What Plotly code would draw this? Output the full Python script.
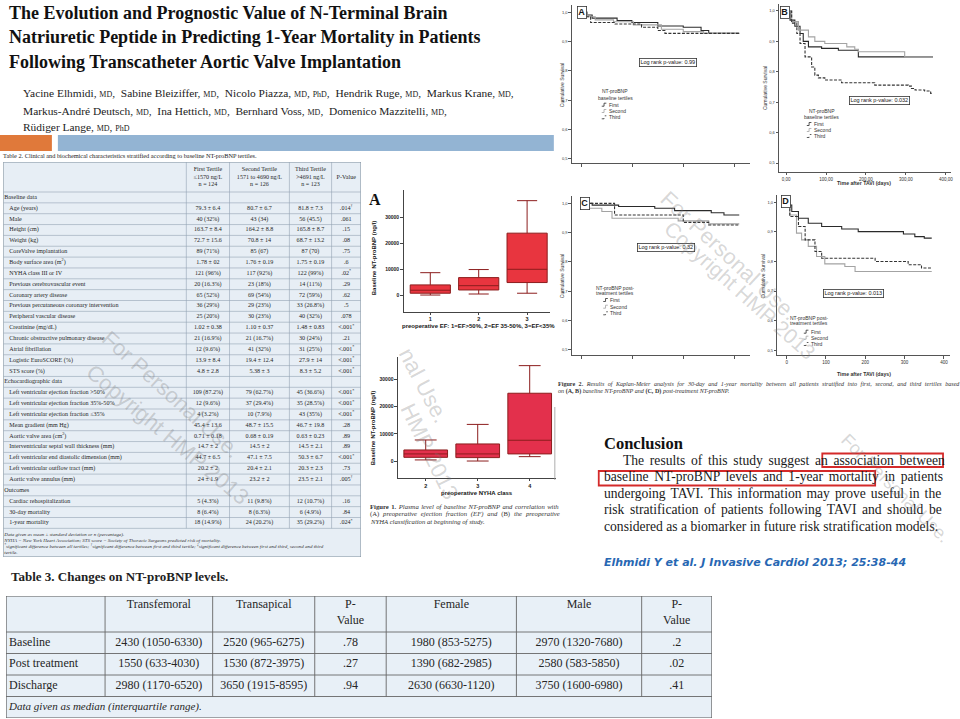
import plotly.graph_objects as go

W, H = 960, 719
def fx(p): return p / W
def fy(p): return 1 - p / H

SERIF = "Liberation Serif"
SANS = "Liberation Sans"

# ---------------- DATA ----------------
title_lines = ["The Evolution and Prognostic Value of N-Terminal Brain",
               "Natriuretic Peptide in Predicting 1-Year Mortality in Patients",
               "Following Transcatheter Aortic Valve Implantation"]
author_lines = [
    "Yacine Elhmidi, {md},  Sabine Bleiziffer, {md},  Nicolo Piazza, {md}, {phd},  Hendrik Ruge, {md},  Markus Krane, {md},",
    "Markus-André Deutsch, {md},  Ina Hettich, {md},  Bernhard Voss, {md},  Domenico Mazzitelli, {md},",
    "Rüdiger Lange, {md}, {phd}"]

# Figure 1A: NT-proBNP by preoperative EF
ef_groups = [1, 2, 3]
ef_ticks = ["1", "2", "3"]
ef_low = [100, 500, 800]
ef_q1 = [800, 2050, 4900]
ef_med = [1950, 3700, 10000]
ef_q3 = [4000, 6800, 23900]
ef_high = [8700, 9900, 36400]

# Figure 1B: NT-proBNP by NYHA class
nyha_groups = [2, 3, 4]
nyha_ticks = ["2", "3", "4"]
nyha_low = [500, 100, 1700]
nyha_q1 = [1450, 1350, 2700]
nyha_med = [2700, 2700, 7700]
nyha_q3 = [4150, 6350, 24900]
nyha_high = [7800, 13500, 35000]

bnp_ticks = [0, 10000, 20000, 30000]
surv_ticks = [0.5, 0.6, 0.7, 0.8, 0.9, 1.0]
surv_ticktext = ["0,5", "0,6", "0,7", "0,8", "0,9", "1,0"]
day30_ticks = [0, 10, 20, 30]
day365_ticks = [0, 100, 200, 300, 400]
day365_text_B = ["0,00", "100,00", "200,00", "300,00", "400,00"]
day365_text_D = ["0", "100", "200", "300", "400"]
tertiles = ["First", "Second", "Third"]

# Figure 2A: 30-day, baseline tertiles
kmA_t1 = [0, 1.1, 2.1, 7, 9.9, 15, 20, 23.5, 25, 31]
kmA_s1 = [1.0, 0.991, 0.98, 0.972, 0.965, 0.953, 0.949, 0.938, 0.928, 0.928]
kmA_t2 = [0, 1.1, 2.7, 6.3, 10.2, 15.7, 20, 24, 31]
kmA_s2 = [1.0, 0.985, 0.974, 0.968, 0.957, 0.942, 0.934, 0.928, 0.928]
kmA_t3 = [0, 0.8, 1.8, 6.6, 11.8, 15, 16.4, 31]
kmA_s3 = [1.0, 0.985, 0.965, 0.96, 0.949, 0.938, 0.928, 0.928]
# Figure 2B: 1-year, baseline tertiles
kmB_t1 = [0, 10, 22, 35, 43, 56, 89, 131, 181, 368]
kmB_s1 = [1.0, 0.97, 0.95, 0.926, 0.9, 0.882, 0.877, 0.871, 0.849, 0.849]
kmB_t2 = [0, 14, 31, 56, 72, 97, 152, 172, 181, 297, 368]
kmB_s2 = [1.0, 0.965, 0.937, 0.915, 0.9, 0.893, 0.882, 0.874, 0.866, 0.849, 0.849]
kmB_t3 = [0, 14, 27, 35, 47.5, 64, 72, 81, 97, 139, 222, 306, 314, 323, 347, 362, 368]
kmB_s3 = [1.0, 0.96, 0.926, 0.893, 0.849, 0.816, 0.789, 0.78, 0.773, 0.764, 0.756, 0.753,
          0.745, 0.74, 0.737, 0.729, 0.729]
# Figure 2C: 30-day, post-treatment tertiles
kmC_t1 = [0, 2.1, 7.3, 14.4, 18.3, 25.5, 28, 31]
kmC_s1 = [1.0, 0.994, 0.989, 0.983, 0.975, 0.968, 0.96, 0.96]
kmC_t2 = [0, 1.5, 4, 6, 19, 25, 31]
kmC_s2 = [1.0, 0.983, 0.972, 0.949, 0.94, 0.93, 0.93]
kmC_t3 = [0, 6.5, 20, 25, 31]
kmC_s3 = [1.0, 0.96, 0.935, 0.926, 0.926]
# Figure 2D: 1-year, post-treatment tertiles
kmD_t1 = [0, 4, 13, 30, 55, 89, 140, 182, 297, 326, 350, 369]
kmD_s1 = [1.0, 0.991, 0.969, 0.946, 0.929, 0.918, 0.91, 0.901, 0.893, 0.884, 0.879, 0.879]
kmD_t2 = [0, 8, 25, 38, 55, 76, 97, 148, 174, 369]
kmD_s2 = [1.0, 0.957, 0.896, 0.873, 0.851, 0.817, 0.792, 0.783, 0.766, 0.766]
kmD_t3 = [0, 8, 30, 47, 72, 89, 225, 309, 343, 369]
kmD_s3 = [1.0, 0.952, 0.918, 0.873, 0.834, 0.811, 0.8, 0.789, 0.778, 0.778]
logrank = ["0.99", "0.032", "0.32", "0.013"]

# Table 2
t2_header = ["First Tertile<br>≤1570 ng/L<br>n = 124", "Second Tertile<br>1571 to 4690 ng/L<br>n = 126",
             "Third Tertile<br>&gt;4691 ng/L<br>n = 123", "P-Value"]
t2_labels = ["Baseline data", "Age (years)", "Male", "Height (cm)", "Weight (kg)", "CoreValve implantation",
             "Body surface area (m<sup>2</sup>)", "NYHA class III or IV", "Previous cerebrovascular event",
             "Coronary artery disease", "Previous percutaneous coronary intervention", "Peripheral vascular disease",
             "Creatinine (mg/dL)", "Chronic obstructive pulmonary disease", "Atrial fibrillation",
             "Logistic EuroSCORE (%)", "STS score (%)", "Echocardiographic data",
             "Left ventricular ejection fraction &gt;50%", "Left ventricular ejection fraction 35%-50%",
             "Left ventricular ejection fraction ≤35%", "Mean gradient (mm Hg)", "Aortic valve area (cm<sup>2</sup>)",
             "Interventricular septal wall thickness (mm)", "Left ventricular end diastolic dimension (mm)",
             "Left ventricular outflow tract (mm)", "Aortic valve annulus (mm)", "Outcomes",
             "Cardiac rehospitalization", "30-day mortality", "1-year mortality"]
t2_sections = ["Baseline data", "Echocardiographic data", "Outcomes"]
t2_first = ["", "79.3 ± 6.4", "40 (32%)", "163.7 ± 8.4", "72.7 ± 15.6", "89 (71%)", "1.78 ± 02", "121 (96%)",
            "20 (16.3%)", "65 (52%)", "36 (29%)", "25 (20%)", "1.02 ± 0.38", "21 (16.9%)", "12 (9.6%)",
            "13.9 ± 8.4", "4.8 ± 2.8", "", "109 (87.2%)", "12 (9.6%)", "4 (3.2%)", "45.4 ± 13.6", "0.71 ± 0.18",
            "14.7 ± 2", "44.7 ± 6.5", "20.2 ± 2", "24 ± 1.9", "", "5 (4.3%)", "8 (6.4%)", "18 (14.9%)"]
t2_second = ["", "80.7 ± 6.7", "43 (34)", "164.2 ± 8.8", "70.8 ± 14", "85 (67)", "1.76 ± 0.19", "117 (92%)",
             "23 (18%)", "69 (54%)", "29 (23%)", "30 (23%)", "1.10 ± 0.37", "21 (16.7%)", "41 (32%)",
             "19.4 ± 12.4", "5.38 ± 3", "", "79 (62.7%)", "37 (29.4%)", "10 (7.9%)", "48.7 ± 15.5", "0.68 ± 0.19",
             "14.5 ± 2", "47.1 ± 7.5", "20.4 ± 2.1", "23.2 ± 2", "", "11 (9.8%)", "8 (6.3%)", "24 (20.2%)"]
t2_third = ["", "81.8 ± 7.3", "56 (45.5)", "165.8 ± 8.7", "68.7 ± 13.2", "87 (70)", "1.75 ± 0.19", "122 (99%)",
            "14 (11%)", "72 (59%)", "33 (26.8%)", "40 (32%)", "1.48 ± 0.83", "30 (24%)", "31 (25%)",
            "27.9 ± 14", "8.3 ± 5.2", "", "45 (36.6%)", "35 (28.5%)", "43 (35%)", "46.7 ± 19.8", "0.63 ± 0.23",
            "14.5 ± 2.1", "50.3 ± 6.7", "20.3 ± 2.3", "23.5 ± 2.1", "", "12 (10.7%)", "6 (4.9%)", "35 (29.2%)"]
SIG = "&lt;.001<sup>*</sup>"
t2_p = ["", ".014<sup>†</sup>", ".061", ".15", ".08", ".75", ".6", ".02<sup>*</sup>", ".29", ".62", ".5", ".078",
        SIG, ".21", SIG, SIG, SIG, "", SIG, SIG, SIG, ".28", ".89", ".89", SIG, ".73", ".005<sup>†</sup>", "",
        ".16", ".84", ".024<sup>*</sup>"]
t2_notes = ["Data given as mean ± standard deviation or n (percentage).",
            "NYHA = New York Heart Association; STS score = Society of Thoracic Surgeons predicted risk of mortality.",
            "<sup>*</sup>significant difference between all tertiles; <sup>†</sup>significant difference between first and third tertile; <sup>‡</sup>significant difference between first and third, second and third",
            "tertile."]

# Table 3
t3_header = ["Transfemoral", "Transapical", "P-<br>Value", "Female", "Male", "P-<br>Value"]
t3_rows = ["Baseline", "Post treatment", "Discharge"]
t3_transfemoral = ["2430 (1050-6330)", "1550 (633-4030)", "2980 (1170-6520)"]
t3_transapical = ["2520 (965-6275)", "1530 (872-3975)", "3650 (1915-8595)"]
t3_p_access = [".78", ".27", ".94"]
t3_female = ["1980 (853-5275)", "1390 (682-2985)", "2630 (6630-1120)"]
t3_male = ["2970 (1320-7680)", "2580 (583-5850)", "3750 (1600-6980)"]
t3_p_sex = [".2", ".02", ".41"]
t3_note = "Data given as median (interquartile range)."

conclusion_lines = ["The results of this study suggest an association between",
                    "baseline NT-proBNP levels and 1-year mortality in patients",
                    "undergoing TAVI. This information may prove useful in the",
                    "risk stratification of patients following TAVI and should be",
                    "considered as a biomarker in future risk stratification models."]

# ---------------- helpers ----------------
TW = {' ': 250, '!': 333, '"': 408, '%': 833, '&': 778, "'": 333, '(': 333, ')': 333, ',': 250, '-': 333,
      '.': 250, '/': 278, ':': 278, ';': 278, '?': 444}
for c in '0123456789':
    TW[c] = 500
TW.update(dict(A=722, B=667, C=667, D=722, E=611, F=556, G=722, H=722, I=333, J=389, K=722, L=611, M=889,
               N=722, O=722, P=556, Q=722, R=667, S=556, T=611, U=722, V=722, W=944, X=722, Y=722, Z=611,
               a=444, b=500, c=444, d=500, e=444, f=333, g=500, h=500, i=278, j=278, k=500, l=278, m=778,
               n=500, o=500, p=500, q=500, r=333, s=389, t=278, u=500, v=500, w=722, x=500, y=500, z=444))

def text_w(s, size):
    return sum(TW.get(ch, 500) for ch in s) * size / 1000.0

def justify(plain, marked, size, width):
    gaps = plain.count(' ')
    extra = (width - text_w(plain, size)) / gaps if gaps else 0
    return "<span style='word-spacing:%.2fpx'>%s</span>" % (extra, marked)

def nonempty(xs, ys, texts):
    keep = [i for i, t in enumerate(texts) if t]
    return [xs[i] for i in keep], [ys[i] for i in keep], [texts[i] for i in keep]

annotations = []
shapes = []

def note(text, x, y, size, family=SERIF, color="#161616", xanchor="left", yanchor="middle", angle=0, **kw):
    annotations.append(dict(text=text, x=fx(x), y=fy(y), xref="paper", yref="paper", showarrow=False,
                            xanchor=xanchor, yanchor=yanchor, textangle=angle,
                            font=dict(size=size, family=family, color=color), **kw))

def prect(x0, y0, x1, y1, fill=None, line=None, lw=0, layer="below"):
    shapes.append(dict(type="rect", xref="paper", yref="paper", x0=fx(x0), x1=fx(x1), y0=fy(y1), y1=fy(y0),
                       fillcolor=fill or "rgba(0,0,0,0)", line=dict(color=line or "rgba(0,0,0,0)", width=lw),
                       layer=layer))

fig = go.Figure()

# ---------------- header ----------------
for i, t in enumerate(title_lines):
    note("<b>%s</b>" % t, 7, 13 + i * 24.3, 18, color="#111")
MD = "<span style='font-size:8px'>MD</span>"
PHD = "<span style='font-size:8px'>PhD</span>"
for i, t in enumerate(author_lines):
    note(t.format(md=MD, phd=PHD), 21, 93.5 + i * 17, 11.4, color="#222")
prect(0, 135, 52, 151, fill="#e0793a")
prect(58, 135, 555, 151, fill="#93b4d3")

# ---------------- Box plots (Figure 1) ----------------
box_style = dict(fillcolor="#e8353f", line=dict(color="#8c1d1d", width=1), whiskerwidth=0.5,
                 boxpoints=False, showlegend=False, hoverinfo="skip")
fig.add_trace(go.Box(x=ef_groups, q1=ef_q1, median=ef_med, q3=ef_q3, lowerfence=ef_low, upperfence=ef_high,
                     width=0.83, xaxis="x", yaxis="y", **box_style))
fig.add_trace(go.Box(x=nyha_groups, q1=nyha_q1, median=nyha_med, q3=nyha_q3, lowerfence=nyha_low,
                     upperfence=nyha_high, width=0.84, xaxis="x2", yaxis="y2",
                     **{**box_style, "fillcolor": "#e3304c"}))

def box_axes(xd, yd, xr, yr, tv, tt):
    ax = dict(domain=xd, range=xr, tickvals=tv, ticktext=tt, showline=True, linecolor="#444", linewidth=1,
              ticks="outside", ticklen=2, tickcolor="#444", showgrid=False, zeroline=False,
              tickfont=dict(size=5.5, family=SANS, color="#222", weight="bold"))
    ay = dict(domain=yd, range=yr, tickvals=bnp_ticks, ticktext=[str(v) for v in bnp_ticks], showline=True,
              linecolor="#444", linewidth=1, ticks="outside", ticklen=3, tickcolor="#444", showgrid=False,
              zeroline=False, tickfont=dict(size=5, family=SANS, color="#222", weight="bold"))
    return ax, ay

ax1, ay1 = box_axes([fx(405), fx(551)], [fy(311.7), fy(190)], [0.46, 3.47], [-6308, 40500], ef_groups, ef_ticks)
ax2, ay2 = box_axes([fx(399.3), fx(556.7)], [fy(478.3), fy(357)], [1.476, 4.497], [-6220, 38160],
                    nyha_groups, nyha_ticks)
ay1["anchor"] = "x"; ax1["anchor"] = "y"
ay2["anchor"] = "x2"; ax2["anchor"] = "y2"

note("<b>A</b>", 376, 199, 16, color="#111", xanchor="center")
note("<b>Baseline NT-proBNP (ng/l)</b>", 375, 258, 6, family=SANS, xanchor="center", angle=-90)
note("<b>Baseline NT-proBNP (ng/l)</b>", 374, 428, 6, family=SANS, xanchor="center", angle=-90)
note("<b>preoperative EF: 1=EF&gt;50%, 2=EF 35-50%, 3=EF&lt;35%</b>", 479, 325.5, 6, family=SANS,
     xanchor="center")
note("<b>preoperative NYHA class</b>", 478, 493, 6, family=SANS, xanchor="center")
fig1_lines = [("Figure 1. Plasma level of baseline NT-proBNP and correlation with",
               "<b>Figure 1.</b> <i>Plasma level of baseline NT-proBNP and correlation with</i>"),
              ("(A) preoperative ejection fraction (EF) and (B) the preoperative",
               "(A) <i>preoperative ejection fraction (EF) and</i> (B) <i>the preoperative</i>"),
              (None, "<i>NYHA classification at beginning of study.</i>")]
for i, (plain, marked) in enumerate(fig1_lines):
    txt = justify(plain, marked, 6.7, 188) if plain else marked
    note(txt, 369, 506.7 + i * 7.5, 6.7, color="#333")

# ---------------- Kaplan-Meier (Figure 2) ----------------
km_sets = [
    ("x3", "y3", [(kmA_t1, kmA_s1), (kmA_t2, kmA_s2), (kmA_t3, kmA_s3)]),
    ("x4", "y4", [(kmB_t1, kmB_s1), (kmB_t2, kmB_s2), (kmB_t3, kmB_s3)]),
    ("x5", "y5", [(kmC_t1, kmC_s1), (kmC_t2, kmC_s2), (kmC_t3, kmC_s3)]),
    ("x6", "y6", [(kmD_t1, kmD_s1), (kmD_t2, kmD_s2), (kmD_t3, kmD_s3)]),
]
km_styles = [dict(color="#2a2a2a", width=1.1), dict(color="#a3a3a3", width=1.1),
             dict(color="#333333", width=1.1, dash="3px,1.5px")]
for xa, ya, curves in km_sets:
    for (t, s), st in zip(curves, km_styles):
        fig.add_trace(go.Scatter(x=t, y=s, mode="lines", line=dict(shape="hv", **st), xaxis=xa, yaxis=ya,
                                 showlegend=False, hoverinfo="skip"))

def km_axes(xd, yd, xr, yr, xtv, xtt):
    ax = dict(domain=xd, range=xr, tickvals=xtv, ticktext=xtt, showticklabels=xtt is not None,
              showline=True, linecolor="#555", linewidth=1, ticks="outside", ticklen=2.5, tickcolor="#555",
              showgrid=False, zeroline=False, tickfont=dict(size=4.5, family=SANS, color="#333"))
    ay = dict(domain=yd, range=yr, tickvals=surv_ticks, ticktext=surv_ticktext, showline=True,
              linecolor="#555", linewidth=1, ticks="outside", ticklen=2.5, tickcolor="#555",
              showgrid=False, zeroline=False, tickfont=dict(size=4, family=SANS, color="#333"))
    return ax, ay

ax3, ay3 = km_axes([fx(573), fx(752)], [fy(163.3), fy(5)], [-1.9, 33.2], [0.484, 1.025], day30_ticks, None)
ax4, ay4 = km_axes([fx(780.7), fx(953)], [fy(171.7), fy(4)], [-17.5, 413], [0.4714, 1.023], day365_ticks,
                   day365_text_B)
ax5, ay5 = km_axes([fx(573), fx(752)], [fy(355), fy(196)], [-1.9, 33.2], [0.4824, 1.025], day30_ticks, None)
ax6, ay6 = km_axes([fx(779), fx(952)], [fy(355), fy(195)], [-23.6, 415.5], [0.484, 1.0247], day365_ticks,
                   day365_text_D)
for n, (a, b) in {3: (ax3, ay3), 4: (ax4, ay4), 5: (ax5, ay5), 6: (ax6, ay6)}.items():
    a["anchor"] = "y%d" % n
    b["anchor"] = "x%d" % n

# panel letters
for letter, cx, cy in [("A", 583.5, 13), ("B", 787, 12), ("C", 586.7, 204), ("D", 787.7, 202)]:
    note("<b>%s</b>" % letter, cx, cy, 9, family=SANS, xanchor="center", bordercolor="#333", borderwidth=0.8,
         borderpad=0.5, bgcolor="white")
# log-rank boxes
for val, cx, cy in zip(logrank, [669.5, 881, 667, 855], [62.5, 100, 247.3, 293]):
    note("Log rank p-value: %s" % val, cx, cy, 5.5, family=SANS, xanchor="center", bordercolor="#333",
         borderwidth=0.8, borderpad=0.6, bgcolor="white")
# y titles and x titles
for cx, cy in [(563.3, 85), (766.7, 88), (563.3, 276), (765, 276)]:
    note("Cumulative Survival", cx, cy, 5, family=SANS, xanchor="center", angle=-90, color="#333")
note("<b>Time after TAVI (days)</b>", 866, 183, 5.2, family=SANS, xanchor="center", color="#333")
note("<b>Time after TAVI (days)</b>", 866, 374.3, 5.2, family=SANS, xanchor="center", color="#333")

# legends
km_legends = [
    (616.7, ["NT-proBNP", "baseline tertiles"], [90.7, 97.5], 603, [104.7, 111, 117.3]),
    (823.5, ["NT-proBNP", "baseline tertiles"], [111, 116.7], 808.5, [124, 130, 136]),
    (616, ["NT-proBNP post-", "treatment tertiles"], [287.7, 293.5], 604.5, [300, 306.7, 313.3]),
    (811, ["NT-proBNP post-", "treatment tertiles"], [317.7, 322.5], 805.5, [331.7, 337.7, 344]),
]
for hx, hl, hy, sx, iy in km_legends:
    for t, yy in zip(hl, hy):
        note(t, hx, yy, 5, family=SANS, xanchor="center", color="#333")
    for name, yy, st in zip(tertiles, iy, km_styles):
        pts = [(sx, yy + 1.5), (sx + 2.3, yy + 1.5), (sx + 2.3, yy - 1.5), (sx + 4.6, yy - 1.5)]
        path = "M " + " L ".join("%.5f,%.5f" % (fx(a), fy(b)) for a, b in pts)
        shapes.append(dict(type="path", path=path, xref="paper", yref="paper",
                           line=dict(color=st["color"], width=0.8, dash="dot" if "dash" in st else "solid")))
        note(name, sx + 4.8, yy, 5, family=SANS, color="#333")

fig2_l1 = ("Figure 2. Results of Kaplan-Meier analysis for 30-day and 1-year mortality between all patients "
           "stratified into first, second, and third tertiles based")
fig2_m1 = ("<b>Figure 2.</b> <i>Results of Kaplan-Meier analysis for 30-day and 1-year mortality between all "
           "patients stratified into first, second, and third tertiles based</i>")
note(justify(fig2_l1, fig2_m1, 6.1, 398), 557, 384, 6.1, color="#333")
note("<i>on</i> <b>(A, B)</b> <i>baseline NT-proBNP and</i> <b>(C, D)</b> <i>post-treatment NT-proBNP.</i>",
     557, 391, 6.1, color="#333")
shapes.append(dict(type="line", xref="paper", yref="paper", x0=fx(556), x1=fx(556), y0=fy(407), y1=fy(480),
                   line=dict(color="#999", width=0.8)))

# ---------------- Conclusion ----------------
note("<b>Conclusion</b>", 603, 443, 16.5, color="#111")
c_size = 13.6
for i, line in enumerate(conclusion_lines):
    yy = 460 + i * 16.5
    x0 = 623 if i == 0 else 604
    if i < len(conclusion_lines) - 1:
        txt = justify(line, line, c_size, 945 - x0)
    else:
        txt = line
    note(txt, x0 - 1, yy, c_size, color="#1a1a1a")
prect(824, 453.5, 945, 467, line="#d42a2a", lw=1.8, layer="above")
prect(600, 471, 877, 485.5, line="#d42a2a", lw=1.8, layer="above")
note("<b><i>Elhmidi Y et al. J Invasive Cardiol 2013; 25:38-44</i></b>", 603, 562, 11, family="DejaVu Sans",
     color="#2767b3")

# ---------------- Table 2 (axes x7/y7, pixel units) ----------------
T2_X0, T2_X1, T2_Y0, T2_Y1 = 3.3, 361.7, 162, 557
T2W, T2H = T2_X1 - T2_X0, T2_Y1 - T2_Y0
t2_colw = [183.4, 43.3, 60, 42.3, 29.4]
T2_HEAD, T2_ROW = 30, 10.85
edges = [0]
for w_ in t2_colw:
    edges.append(edges[-1] + w_)
centers = [(edges[i] + edges[i + 1]) / 2 for i in range(len(t2_colw))]
rows_end = T2_HEAD + T2_ROW * len(t2_labels)
row_y = [T2_HEAD + (i + 0.5) * T2_ROW for i in range(len(t2_labels))]

note("Table 2. Clinical and biochemical characteristics stratified according to baseline NT-proBNP tertiles.",
     1, 155.5, 6.3, color="#222")
shapes.append(dict(type="rect", xref="x7", yref="y7", x0=0, x1=T2W, y0=0, y1=T2H, fillcolor="#e7eef5",
                   line=dict(color="#6f8192", width=0.9), layer="below"))
for k in range(len(t2_labels) + 1):
    yy = T2_HEAD + k * T2_ROW
    shapes.append(dict(type="line", xref="x7", yref="y7", x0=0, x1=T2W, y0=yy, y1=yy,
                       line=dict(color="#93a3b3", width=0.6)))
for e in edges[1:-1]:
    shapes.append(dict(type="line", xref="x7", yref="y7", x0=e, x1=e, y0=0, y1=rows_end,
                       line=dict(color="#93a3b3", width=0.6)))

tfont = dict(size=6.1, family=SERIF, color="#262626")
fig.add_trace(go.Scatter(x=centers[1:], y=[T2_HEAD / 2] * 4, text=t2_header, mode="text",
                         textposition="middle center", textfont=tfont, xaxis="x7", yaxis="y7",
                         cliponaxis=False, showlegend=False, hoverinfo="skip"))
fig.add_trace(go.Scatter(x=[1 if lab in t2_sections else 6 for lab in t2_labels], y=row_y, text=t2_labels,
                         mode="text", textposition="middle right", textfont=tfont, xaxis="x7", yaxis="y7",
                         cliponaxis=False, showlegend=False, hoverinfo="skip"))
for ci, col in zip(range(1, 5), [t2_first, t2_second, t2_third, t2_p]):
    xs, ys, ts = nonempty([centers[ci]] * len(col), row_y, col)
    fig.add_trace(go.Scatter(x=xs, y=ys, text=ts, mode="text",
                             textposition="middle center", textfont=tfont, xaxis="x7", yaxis="y7",
                             cliponaxis=False, showlegend=False, hoverinfo="skip"))
fig.add_trace(go.Scatter(x=[1] * len(t2_notes), y=[rows_end + 6 + 6 * k for k in range(len(t2_notes))],
                         text=["<i>%s</i>" % t for t in t2_notes], mode="text", textposition="middle right",
                         textfont=dict(size=5, family=SERIF, color="#333"), xaxis="x7", yaxis="y7",
                         cliponaxis=False, showlegend=False, hoverinfo="skip"))
ax7 = dict(domain=[fx(T2_X0), fx(T2_X1)], range=[0, T2W], visible=False, anchor="y7")
ay7 = dict(domain=[fy(T2_Y1), fy(T2_Y0)], range=[T2H, 0], visible=False, anchor="x7")

# ---------------- Table 3 (axes x8/y8, pixel units) ----------------
T3_X0, T3_X1, T3_Y0, T3_Y1 = 6.1, 713.4, 596, 718
T3W, T3H = T3_X1 - T3_X0, T3_Y1 - T3_Y0
t3_edges = [0, 99.2, 207, 309.3, 380.9, 511.4, 636.9, T3W]
t3_centers = [(t3_edges[i] + t3_edges[i + 1]) / 2 for i in range(len(t3_edges) - 1)]
T3_HEAD, T3_ROW = 36, 21.5
t3_row_y = [T3_HEAD + (i + 0.5) * T3_ROW for i in range(len(t3_rows))]
t3_rows_end = T3_HEAD + T3_ROW * len(t3_rows)

note("<b>Table 3. Changes on NT-proBNP levels.</b>", 9, 576, 13, color="#222")
shapes.append(dict(type="rect", xref="x8", yref="y8", x0=0, x1=T3W, y0=0, y1=T3H, fillcolor="#e8f0f7",
                   line=dict(color="#555", width=1), layer="below"))
for k in range(len(t3_rows) + 1):
    yy = T3_HEAD + k * T3_ROW
    shapes.append(dict(type="line", xref="x8", yref="y8", x0=0, x1=T3W, y0=yy, y1=yy,
                       line=dict(color="#666", width=0.9)))
for e in t3_edges[1:-1]:
    shapes.append(dict(type="line", xref="x8", yref="y8", x0=e, x1=e, y0=0, y1=t3_rows_end,
                       line=dict(color="#666", width=0.9)))
t3font = dict(size=12, family=SERIF, color="#262626")
fig.add_trace(go.Scatter(x=t3_centers[1:], y=[3.0] * 6, text=t3_header, mode="text",
                         textposition="bottom center", textfont=t3font, xaxis="x8", yaxis="y8",
                         cliponaxis=False, showlegend=False, hoverinfo="skip"))
fig.add_trace(go.Scatter(x=[3] * 3, y=t3_row_y, text=t3_rows, mode="text", textposition="middle right",
                         textfont=t3font, xaxis="x8", yaxis="y8", cliponaxis=False, showlegend=False,
                         hoverinfo="skip"))
for ci, col in zip(range(1, 7), [t3_transfemoral, t3_transapical, t3_p_access, t3_female, t3_male, t3_p_sex]):
    fig.add_trace(go.Scatter(x=[t3_centers[ci]] * 3, y=t3_row_y, text=col, mode="text",
                             textposition="middle center", textfont=t3font, xaxis="x8", yaxis="y8",
                             cliponaxis=False, showlegend=False, hoverinfo="skip"))
fig.add_trace(go.Scatter(x=[3], y=[(t3_rows_end + T3H) / 2], text=["<i>%s</i>" % t3_note], mode="text",
                         textposition="middle right", textfont=dict(size=11, family=SERIF, color="#262626"),
                         xaxis="x8", yaxis="y8", cliponaxis=False, showlegend=False, hoverinfo="skip"))
ax8 = dict(domain=[fx(T3_X0), fx(T3_X1)], range=[0, T3W], visible=False, anchor="y8")
ay8 = dict(domain=[fy(T3_Y1), fy(T3_Y0)], range=[T3H, 0], visible=False, anchor="x8")

# ---------------- watermarks ----------------
WM = "rgba(120,120,120,0.30)"
for txt, cx, cy, ang, sz in [("For Personal Use.", 172, 394, 42, 22), ("Copyright HMP 2013", 168, 434, 40, 22),
                             ("nal Use.", 425, 385, 62, 22), ("HMP 2013", 430, 452, 64, 22),
                             ("For Personal Use.", 730, 256, 43, 22), ("Copyright HMP 2013", 742, 290, 42, 21),
                             ("For Personal Use.", 897, 488, 45, 18)]:
    note(txt, cx, cy, sz, family=SANS, color=WM, xanchor="center", angle=ang)

fig.update_layout(
    width=W, height=H, autosize=False, margin=dict(l=0, r=0, t=0, b=0),
    paper_bgcolor="white", plot_bgcolor="rgba(0,0,0,0)", showlegend=False,
    xaxis=ax1, yaxis=ay1, xaxis2=ax2, yaxis2=ay2, xaxis3=ax3, yaxis3=ay3, xaxis4=ax4, yaxis4=ay4,
    xaxis5=ax5, yaxis5=ay5, xaxis6=ax6, yaxis6=ay6, xaxis7=ax7, yaxis7=ay7, xaxis8=ax8, yaxis8=ay8,
    annotations=annotations, shapes=shapes,
)
fig.write_html("out.html", config={"displayModeBar": False, "staticPlot": True},
               post_script="document.body.style.margin='0';document.body.style.padding='0';")
